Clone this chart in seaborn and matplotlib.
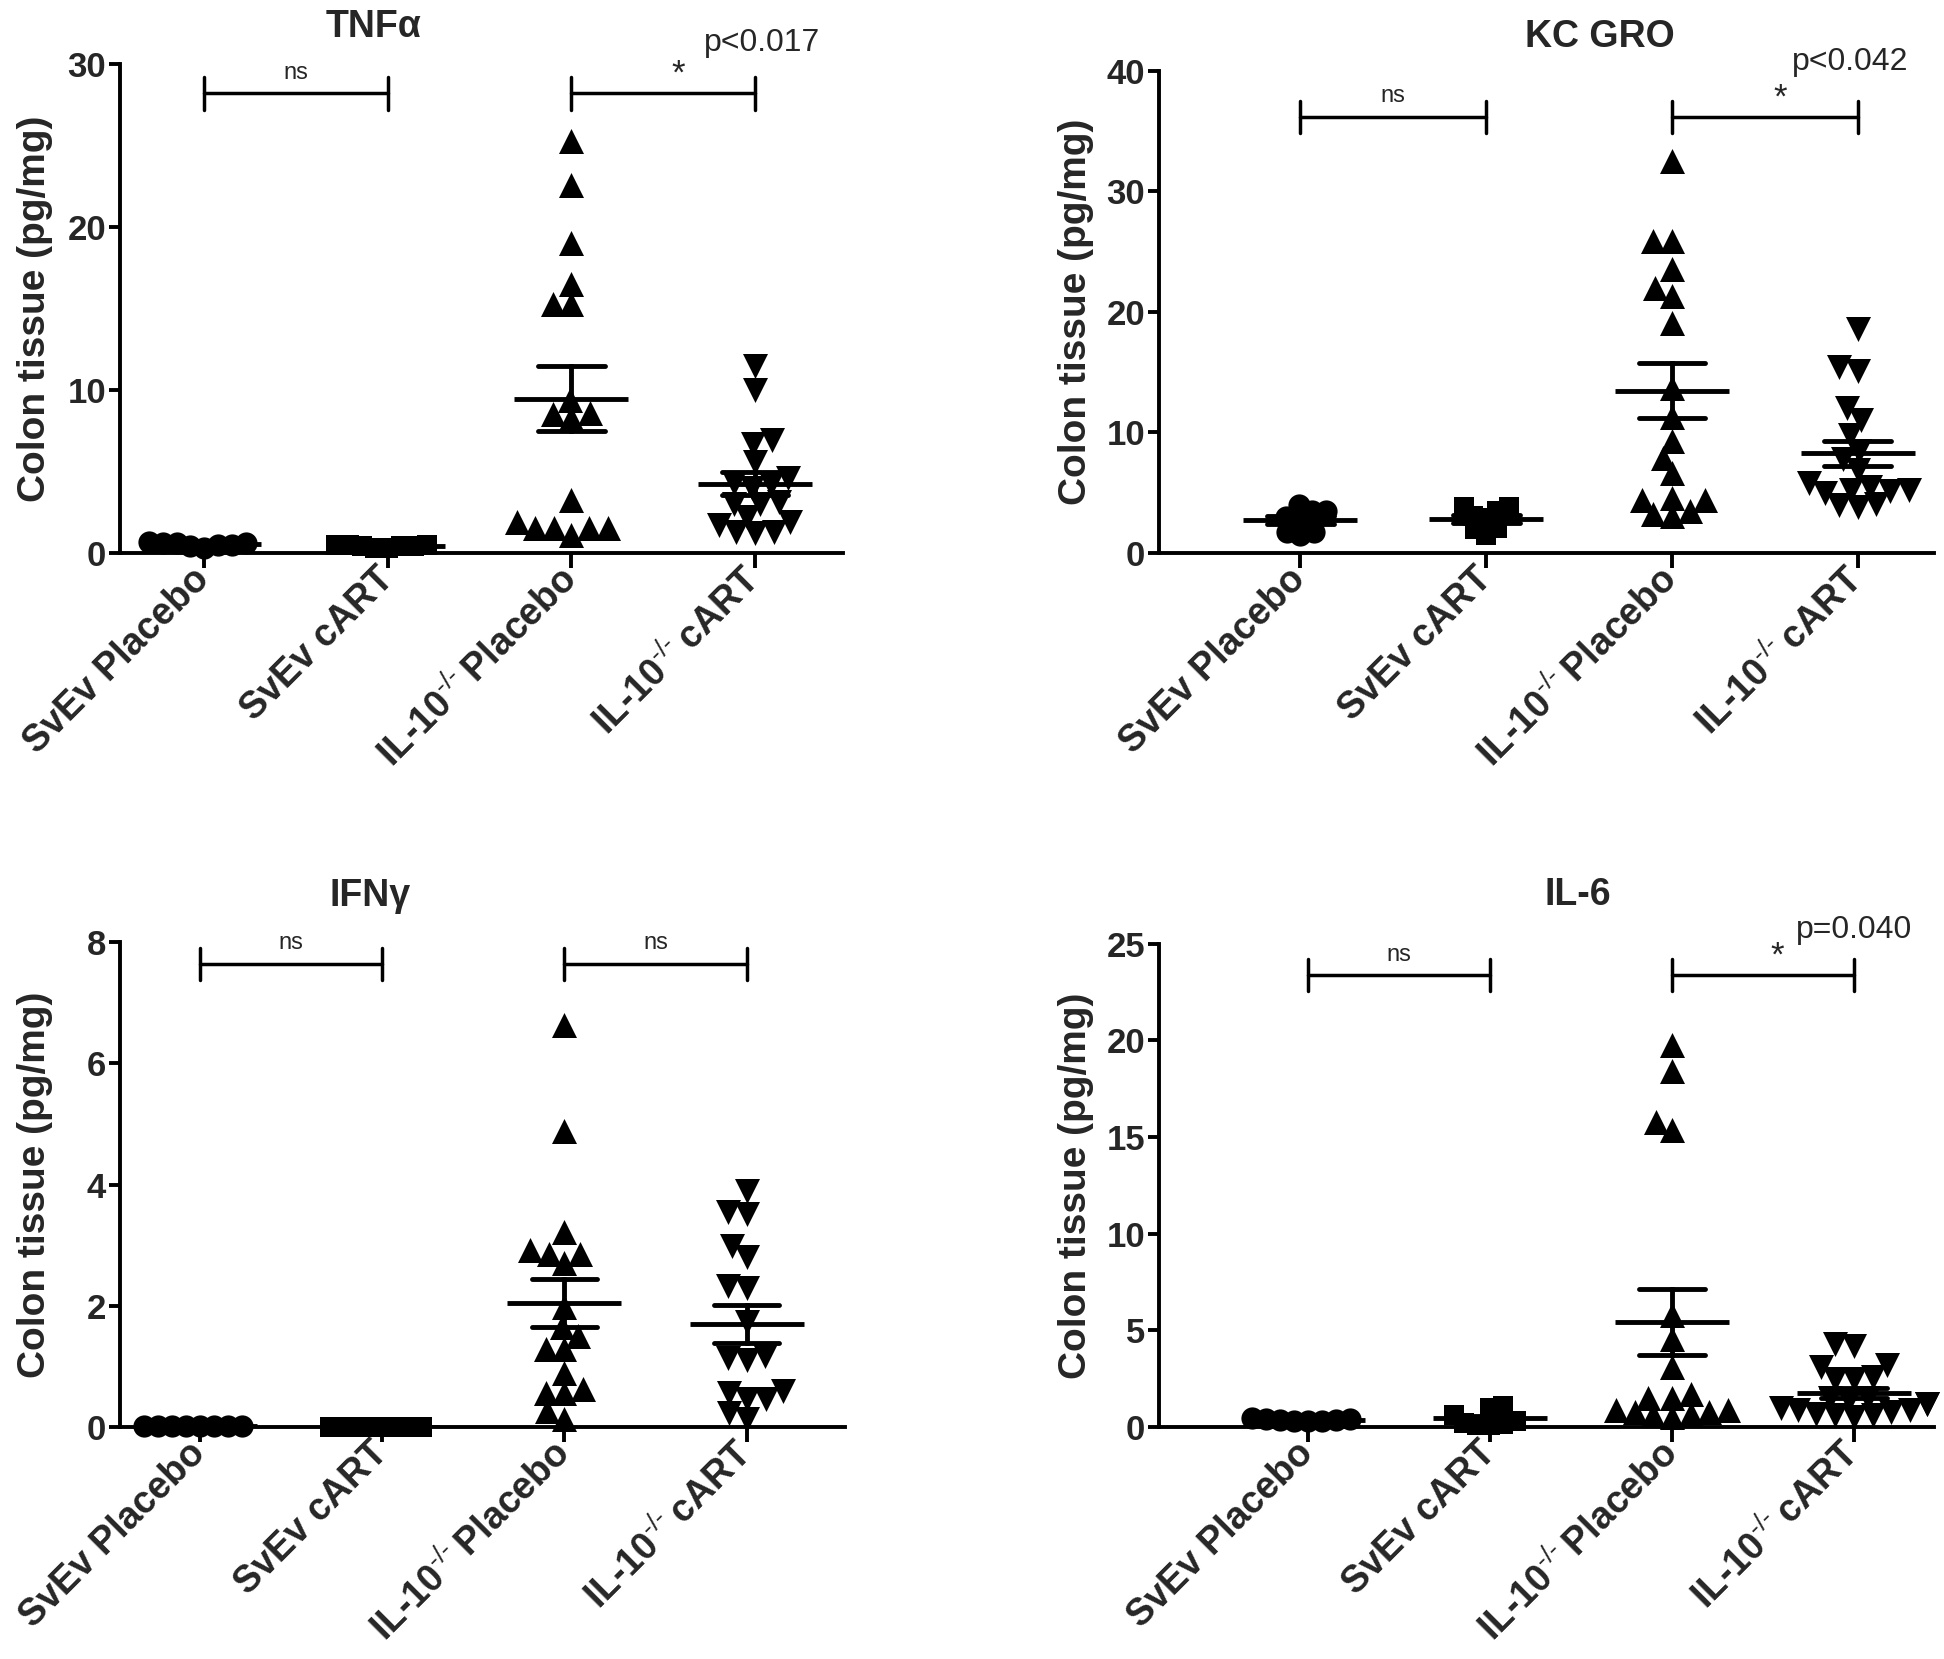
import numpy as np
import pandas as pd
import matplotlib
matplotlib.use('Agg')
import matplotlib.pyplot as plt
import seaborn as sns

# groups on the x axis
groups = ['SvEv Placebo', 'SvEv cART', 'IL-10$^{\\text{-/-}}\\,$Placebo', 'IL-10$^{\\text{-/-}}\\,$cART']

# TNFa (pg/mg)
tnf_svev_placebo = [0.6, 0.5, 0.7, 0.4, 0.6, 0.5, 0.3, 0.6]
tnf_svev_cart = [0.5, 0.4, 0.5, 0.3, 0.4, 0.5, 0.3, 0.4]
tnf_il10_placebo = [25.3, 22.6, 19.0, 16.5, 15.3, 15.3, 9.4, 8.5, 8.6, 8.3, 3.25, 1.5, 1.5, 1.5, 1.5, 1.9, 1.1]
tnf_il10_cart = [11.5, 10.0, 6.9, 6.7, 5.6, 4.6, 4.3, 4.2, 4.0, 3.0, 3.1, 3.0, 2.2, 1.9, 1.7, 1.3, 1.3, 1.2]

# KC GRO (pg/mg)
kc_svev_placebo = [3.5, 4.0, 3.5, 3.0, 1.7, 1.5, 1.7, 2.9]
kc_svev_cart = [3.8, 3.8, 3.5, 3.05, 2.1, 2.0, 1.5, 2.9]
kc_il10_placebo = [32.5, 25.9, 25.9, 23.6, 22.0, 21.3, 19.1, 13.7, 11.3, 9.3, 7.9, 6.6, 4.4, 4.4, 4.6, 3.5, 3.05, 3.2]
kc_il10_cart = [18.6, 15.4, 15.1, 12.0, 11.0, 9.8, 8.5, 7.8, 6.9, 5.8, 5.5, 5.2, 5.1, 5.2, 5.0, 4.1, 3.8, 4.0]

# IFNg (pg/mg)
ifn_svev_placebo = [0.02, 0.02, 0.02, 0.02, 0.02, 0.02, 0.02, 0.02]
ifn_svev_cart = [0.0, 0.0, 0.0, 0.0, 0.0, 0.0, 0.0, 0.0]
ifn_il10_placebo = [6.64, 4.89, 3.22, 2.86, 2.92, 2.86, 2.7, 1.98, 1.65, 1.5, 1.29, 1.29, 0.9, 0.56, 0.62, 0.56, 0.26, 0.14]
ifn_il10_cart = [3.89, 3.55, 3.52, 2.98, 2.8, 2.32, 2.29, 1.74, 1.14, 1.1, 1.17, 0.59, 0.47, 0.47, 0.56, 0.14, 0.23]

# IL-6 (pg/mg)
il6_svev_placebo = [0.3, 0.4, 0.45, 0.35, 0.3, 0.4, 0.35, 0.3]
il6_svev_cart = [1.0, 1.1, 0.6, 0.3, 0.2, 0.1, 0.1, 0.15]
il6_il10_placebo = [19.74, 18.4, 15.8, 15.35, 5.8, 4.55, 3.1, 1.7, 1.5, 1.5, 0.9, 0.9, 0.8, 0.8, 0.7, 0.6, 0.5]
il6_il10_cart = [4.2, 4.3, 3.2, 3.1, 2.6, 2.5, 2.5, 1.5, 1.5, 1.4, 1.2, 1.2, 1.0, 0.9, 0.9, 0.8, 0.7, 0.6, 0.5, 0.6]

titles = ['TNFα', 'KC GRO', 'IFNγ', 'IL-6']
y_max = [30, 40, 8, 25]
y_ticks = [[0, 10, 20, 30], [0, 10, 20, 30, 40], [0, 2, 4, 6, 8], [0, 5, 10, 15, 20, 25]]
p_texts = ['p<0.017', 'p<0.042', None, 'p=0.040']
p_pos = [(3.04, 1.043), (2.96, 1.018), None, (3.0, 1.028)]
right_marks = ['*', '*', 'ns', '*']
bar_frac = [0.94, 0.905, 0.955, 0.935]

sns.set_style('ticks')
plt.rcParams['font.family'] = ['Liberation Sans', 'DejaVu Sans']
plt.rcParams['mathtext.fontset'] = 'custom'
plt.rcParams['mathtext.rm'] = 'Liberation Sans'
plt.rcParams['mathtext.bf'] = 'Liberation Sans:bold'

markers = ['o', 's', '^', 'v']
msizes = [16, 15, 18, 18]
# GraphPad packs the dots tighter than a plain swarm: lay out with smaller markers
pack = [0.6, 0.6, 0.72, 0.72]

fig = plt.figure(figsize=(19.44, 16.59), dpi=100)

# axes rectangles and x limits, from the reference layout
rects = [[0.0617, 0.6667, 0.372, 0.2947],
         [0.5962, 0.6667, 0.3987, 0.2905],
         [0.0617, 0.1398, 0.373, 0.2923],
         [0.5962, 0.1398, 0.3987, 0.2913]]
xlims = [(-0.46, 3.48), (-0.76, 3.41), (-0.44, 3.54), (-0.82, 3.44)]
title_pos = [(0.1924, 0.9837), (0.823, 0.9777), (0.1903, 0.460), (0.8117, 0.4605)]
ylabel_x = [-0.093, -0.084, -0.093, -0.084]

panels = [
    [tnf_svev_placebo, tnf_svev_cart, tnf_il10_placebo, tnf_il10_cart],
    [kc_svev_placebo, kc_svev_cart, kc_il10_placebo, kc_il10_cart],
    [ifn_svev_placebo, ifn_svev_cart, ifn_il10_placebo, ifn_il10_cart],
    [il6_svev_placebo, il6_svev_cart, il6_il10_placebo, il6_il10_cart],
]

swarms = []
for i, vals in enumerate(panels):
    ax = fig.add_axes(rects[i])
    df = pd.DataFrame({
        'group': np.repeat(groups, [len(v) for v in vals]),
        'value': np.concatenate(vals),
    })

    # scatter dots, one marker per group
    for g, m, s, k in zip(groups, markers, msizes, pack):
        n0 = len(ax.collections)
        sns.swarmplot(data=df[df['group'] == g], x='group', y='value', order=groups,
                      marker=m, size=s * k, color='black', linewidth=0, ax=ax,
                      clip_on=False, warn_thresh=1, zorder=3)
        for coll in ax.collections[n0:]:
            if len(coll.get_offsets()) > 0:
                swarms.append((coll, s))

    # mean with SEM
    sns.pointplot(data=df, x='group', y='value', order=groups, errorbar='se',
                  capsize=0.36, color='black', marker='_', markersize=82,
                  markeredgewidth=3.5, linestyle='none',
                  err_kws={'linewidth': 3.5}, ax=ax, zorder=4)

    ymax = y_max[i]
    ax.set_ylim(0, ymax)
    ax.set_xlim(*xlims[i])
    ax.set_yticks(y_ticks[i])
    ax.set_yticklabels([str(t) for t in y_ticks[i]], fontsize=25, fontweight='bold')
    ax.set_xticks(range(4))
    ax.set_xticklabels(groups, rotation=45, ha='right', va='center',
                       rotation_mode='anchor', fontsize=27, fontweight='bold')
    ax.set_xlabel('')
    ax.set_ylabel('Colon tissue (pg/mg)', fontsize=28, fontweight='bold')
    ax.yaxis.set_label_coords(ylabel_x[i], 0.5)
    sns.despine(ax=ax)
    for sp in ['left', 'bottom']:
        ax.spines[sp].set_linewidth(2.8)
        ax.spines[sp].set_color('black')
    ax.tick_params(axis='y', length=8, width=2.8, color='black', pad=2)
    ax.tick_params(axis='x', length=11, width=2.8, color='black', pad=4)

    # significance brackets
    bar_y = ymax * bar_frac[i]
    cap = ymax * 0.033
    for x0, x1, mark in [(0, 1, 'ns'), (2, 3, right_marks[i])]:
        ax.plot([x0, x1], [bar_y, bar_y], color='black', lw=2.5, clip_on=False)
        ax.plot([x0, x0], [bar_y - cap, bar_y + cap], color='black', lw=2.5, clip_on=False)
        ax.plot([x1, x1], [bar_y - cap, bar_y + cap], color='black', lw=2.5, clip_on=False)
        if mark == 'ns':
            ax.text((x0 + x1) / 2, bar_y + ymax * 0.02, 'ns', ha='center', va='bottom', fontsize=17)
        else:
            ax.text(2.58, bar_y + ymax * 0.005, '*', ha='center', va='bottom', fontsize=25)
    if p_texts[i]:
        ax.text(p_pos[i][0], ymax * p_pos[i][1], p_texts[i], ha='center', va='center', fontsize=23)

    fig.text(title_pos[i][0], title_pos[i][1], titles[i], ha='center', va='center',
             fontsize=27, fontweight='bold')

# run the swarm layout once, then freeze it and show the full-size markers
fig.canvas.draw()
for coll, s in swarms:
    if 'draw' in coll.__dict__:
        del coll.draw
    coll.set_sizes([s ** 2])

fig.savefig('out.png', dpi=100, facecolor='white')
